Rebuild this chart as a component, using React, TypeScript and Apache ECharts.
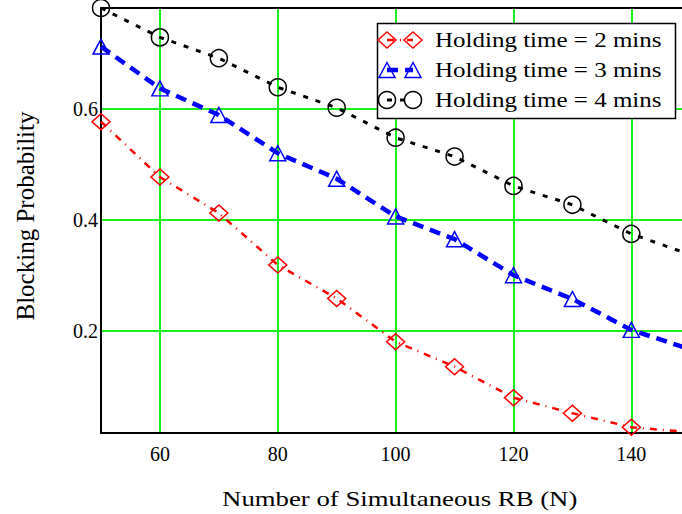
import React, { useEffect, useRef } from "react";
import * as echarts from "echarts";

// ---- data ----
const xValues = [50, 60, 70, 80, 90, 100, 110, 120, 130, 140, 150];
const hold2 = [0.577, 0.477, 0.412, 0.3185, 0.258, 0.18, 0.135, 0.079, 0.051, 0.0257, 0.0167];
const hold3 = [0.7124, 0.637, 0.589, 0.52, 0.474, 0.406, 0.365, 0.3, 0.257, 0.2013, 0.166];
const hold4 = [0.782, 0.729, 0.6915, 0.639, 0.602, 0.548, 0.514, 0.461, 0.427, 0.3745, 0.337];
const seriesNames = ["Holding time = 2 mins", "Holding time = 3 mins", "Holding time = 4 mins"];
const xTicks = [60, 80, 100, 120, 140];
const yTicks = [0.2, 0.4, 0.6];
const xRange = [50, 148.6];
const yRange = [0.0153, 0.782];
const xTitle = "Number of Simultaneous RB (N)";
const yTitle = "Blocking Probability";

const FONT = "Liberation Serif, Times New Roman, serif";
const RED = "#ff0000";
const BLUE = "#0000ff";
const BLACK = "#000000";
const GREEN = "#19f019";

const styles = [
  { color: RED, width: 2.5, dash: [7, 6, 1, 6], symbol: "diamond", size: [18, 16] },
  { color: BLUE, width: 4.5, dash: [11, 7], symbol: "triangle", size: [16, 15] },
  { color: BLACK, width: 3, dash: [5, 8], symbol: "circle", size: [17, 17] },
];
const allData = [hold2, hold3, hold4];

function legendGraphics() {
  const els: any[] = [];
  els.push({
    type: "rect",
    z: 100,
    shape: { x: 377.5, y: 23.5, width: 298, height: 95 },
    style: { fill: "#ffffff", stroke: "#000000", lineWidth: 1.5 },
  });
  const rows = [40, 70, 100];
  const xs = [387, 413];
  seriesNames.forEach((name, i) => {
    const s = styles[i];
    const cy = rows[i];
    els.push({
      type: "line",
      z: 101,
      shape: { x1: xs[0], y1: cy, x2: xs[1], y2: cy },
      style: { stroke: s.color, lineWidth: s.width, lineDash: s.dash },
    });
    xs.forEach((cx) => {
      const w = s.size[0] / 2;
      const h = s.size[1] / 2;
      if (s.symbol === "diamond") {
        els.push({
          type: "polygon",
          z: 102,
          shape: { points: [[cx, cy - h], [cx + w, cy], [cx, cy + h], [cx - w, cy]] },
          style: { fill: "none", stroke: s.color, lineWidth: 1.5 },
        });
      } else if (s.symbol === "triangle") {
        els.push({
          type: "polygon",
          z: 102,
          shape: { points: [[cx, cy - h], [cx + w, cy + h], [cx - w, cy + h]] },
          style: { fill: "none", stroke: s.color, lineWidth: 1.5 },
        });
      } else {
        els.push({
          type: "circle",
          z: 102,
          shape: { cx, cy, r: w },
          style: { fill: "none", stroke: s.color, lineWidth: 1.5 },
        });
      }
    });
    els.push({
      type: "text",
      z: 102,
      x: 435,
      y: cy,
      scaleX: 1.19,
      style: {
        text: name,
        font: `21px ${FONT}`,
        fill: "#000000",
        textAlign: "left",
        textVerticalAlign: "middle",
      },
    });
  });
  return els;
}

export default function App() {
  const ref = useRef<HTMLDivElement>(null);
  useEffect(() => {
    if (!ref.current) return;
    const chart = echarts.init(ref.current, null, { renderer: "svg" });
    const option: any = {
      animation: false,
      backgroundColor: "#ffffff",
      grid: { left: 101, top: 8, width: 581, height: 425, containLabel: false },
      xAxis: [
        {
          type: "value",
          min: xRange[0],
          max: xRange[1],
          axisLine: { show: true, onZero: false, lineStyle: { color: "#000", width: 2 } },
          axisTick: { show: false, customValues: xTicks },
          axisLabel: {
            customValues: xTicks,
            color: "#000",
            fontFamily: FONT,
            fontSize: 20,
            margin: 11,
          },
          splitLine: { show: true, lineStyle: { color: GREEN, width: 2 } },
        },
        {
          type: "value",
          position: "top",
          min: xRange[0],
          max: xRange[1],
          axisLine: { show: true, onZero: false, lineStyle: { color: "#000", width: 2 } },
          axisTick: { show: false },
          axisLabel: { show: false },
          splitLine: { show: false },
        },
      ],
      yAxis: {
        type: "value",
        min: yRange[0],
        max: yRange[1],
        axisLine: { show: true, onZero: false, lineStyle: { color: "#000", width: 2 } },
        axisTick: { show: false, customValues: yTicks },
        axisLabel: {
          customValues: yTicks,
          color: "#000",
          fontFamily: FONT,
          fontSize: 20,
          margin: 3,
          padding: [5, 0, 0, 0],
          formatter: (v: number) => v.toFixed(1),
        },
        splitLine: { show: true, lineStyle: { color: GREEN, width: 2 } },
      },
      series: allData.map((vals, i) => ({
        type: "line",
        name: seriesNames[i],
        xAxisIndex: 0,
        z: 3 + i,
        data: xValues.map((x, k) => [x, vals[k]]),
        symbol: styles[i].symbol,
        symbolSize: styles[i].size,
        showAllSymbol: true,
        clip: true,
        lineStyle: { color: styles[i].color, width: styles[i].width, type: styles[i].dash },
        itemStyle: { color: "rgba(0,0,0,0)", borderColor: styles[i].color, borderWidth: 1.5 },
        emphasis: { disabled: true },
      })),
      graphic: [
        ...legendGraphics(),
        {
          type: "text",
          x: 399.7,
          y: 498,
          scaleX: 1.245,
          style: {
            text: xTitle,
            font: `21.5px ${FONT}`,
            fill: "#000",
            textAlign: "center",
            textVerticalAlign: "middle",
          },
        },
        {
          type: "text",
          x: 25,
          y: 216,
          rotation: Math.PI / 2,
          style: {
            text: yTitle,
            font: `25px ${FONT}`,
            fill: "#000",
            textAlign: "center",
            textVerticalAlign: "middle",
          },
        },
      ],
    };
    chart.setOption(option);
    return () => chart.dispose();
  }, []);
  return (
    <div
      ref={ref}
      style={{ position: "fixed", left: 0, top: 0, width: 682, height: 514, background: "#fff" }}
    />
  );
}
